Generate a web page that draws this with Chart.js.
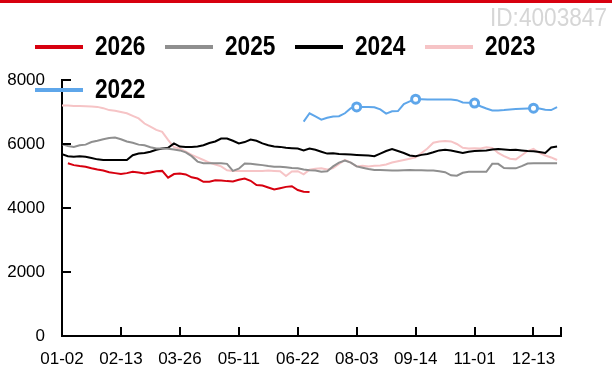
<!DOCTYPE html>
<html>
<head>
<meta charset="utf-8">
<script src="https://cdn.jsdelivr.net/npm/chart.js@4.4.1/dist/chart.umd.min.js"></script>
<style>
    html, body { margin: 0; padding: 0; background: #fff; }
    #wrap { width: 612px; height: 376px; position: relative; }
</style>
</head>
<body>
<div id="wrap"><canvas id="seasonChart"></canvas></div>
<script>
// One point every 3 trading days, x-axis label every 30 trading days
const STEP = 3;
const TICK_EVERY = 30;
const X_MAX = 254;

const xTickLabels = ['01-02', '02-13', '03-26', '05-11', '06-22', '08-03', '09-14', '11-01', '12-13'];
const yTicks = [0, 2000, 4000, 6000, 8000];

const seriesNames = ['2026', '2025', '2024', '2023', '2022'];
const seriesColors = ['#d7000f', '#8f8f8f', '#000000', '#f6c4c6', '#5ea6ea'];

const values2026 = [
    null, 5400, 5340, 5310, 5290, 5240, 5200, 5170, 5120, 5090,
    5060, 5090, 5130, 5110, 5080, 5110, 5150, 5160, 4950, 5060,
    5080, 5050, 4960, 4920, 4820, 4820, 4870, 4860, 4840, 4830,
    4880, 4920, 4850, 4720, 4700, 4640, 4580, 4620, 4660, 4680,
    4560, 4510, 4500
];

const values2025 = [
    5990, 5940, 5910, 5960, 5980, 6060, 6100, 6150, 6190, 6200,
    6150, 6080, 6040, 5980, 5960, 5900, 5860, 5860, 5850, 5830,
    5800, 5740, 5620, 5450, 5400, 5400, 5400, 5400, 5380, 5160,
    5230, 5390, 5380, 5360, 5340, 5310, 5290, 5290, 5270, 5250,
    5240, 5200, 5180, 5170, 5130, 5150, 5300, 5420, 5480, 5420,
    5300, 5260, 5220, 5190, 5190, 5180, 5170, 5170, 5180, 5190,
    5180, 5180, 5170, 5170, 5150, 5120, 5020, 5010, 5100, 5130,
    5130, 5130, 5130, 5380, 5380, 5250, 5240, 5240, 5310, 5390,
    5400, 5400, 5400, 5400, 5400
];

const values2024 = [
    5680, 5620, 5600, 5620, 5600, 5560, 5520, 5500, 5500, 5500,
    5500, 5500, 5650, 5700, 5720, 5760, 5820, 5860, 5880, 6020,
    5920, 5910, 5910, 5920, 5960, 6030, 6080, 6170, 6170, 6100,
    6020, 6060, 6140, 6100, 6020, 5960, 5920, 5910, 5880, 5870,
    5860, 5800, 5860, 5820, 5760, 5700, 5710, 5690, 5680, 5670,
    5660, 5650, 5640, 5620, 5700, 5780, 5840, 5780, 5720, 5640,
    5620, 5660, 5690, 5740, 5800, 5820, 5800, 5760, 5720, 5760,
    5780, 5790, 5800, 5830, 5840, 5830, 5810, 5820, 5800, 5780,
    5770, 5750, 5720, 5890, 5920
];

const values2023 = [
    7200, 7200, 7190, 7190, 7180, 7170, 7160, 7120, 7060, 7040,
    7000, 6960, 6880, 6800, 6640, 6540, 6440, 6380, 6130, 5900,
    5860, 5760, 5660, 5580, 5500, 5420, 5360, 5300, 5180, 5160,
    5160, 5160, 5160, 5160, 5160, 5170, 5160, 5150, 5000, 5140,
    5150, 5050, 5200, 5230, 5240, 5200, 5250, 5380, 5500, 5420,
    5300, 5320, 5300, 5320, 5330, 5360, 5420, 5460, 5500, 5540,
    5580, 5720, 5860, 6040, 6080, 6090, 6080, 6000, 5880, 5860,
    5870, 5860, 5900, 5880, 5720, 5620, 5540, 5520, 5650, 5780,
    5850, 5720, 5640, 5580, 5500
];

// 2022 only has data from the second half of the year
const values2022 = Array(41).fill(null).concat([
    6700, 6960, 6860, 6760, 6820, 6860, 6870, 6960, 7120,
    7160, 7160, 7160, 7150, 7080, 6950, 7020, 7030, 7250, 7330,
    7400, 7400, 7390, 7390, 7390, 7390, 7390, 7370, 7300, 7290,
    7280, 7180, 7110, 7050, 7050, 7060, 7080, 7090, 7100, 7110,
    7120, 7110, 7070, 7060, 7150
]);

const seriesValues = [values2026, values2025, values2024, values2023, values2022];

const SANS = "'Liberation Sans', Arial, sans-serif";

function toPoints(vals) {
    return vals.map((v, i) => ({ x: i * STEP, y: v }));
}

const datasets = seriesNames.map((name, i) => ({
    label: name,
    data: toPoints(seriesValues[i]),
    borderColor: seriesColors[i],
    backgroundColor: '#ffffff',
    borderWidth: 2,
    tension: 0,
    spanGaps: false,
    pointRadius: 0,
    pointHoverRadius: 0
}));

// 2022 gets hollow circle markers every 30 trading days
datasets[4].pointRadius = (ctx) => (ctx.dataIndex % 10 === 0 ? 4 : 0);
datasets[4].pointBorderWidth = 3;
datasets[4].pointBackgroundColor = '#ffffff';
datasets[4].pointBorderColor = seriesColors[4];

// draws text squeezed horizontally (narrow look)
function narrowText(ctx, text, x, y, squeeze) {
    ctx.save();
    ctx.translate(x, y);
    ctx.scale(squeeze, 1);
    ctx.fillText(text, 0, 0);
    ctx.restore();
}

// Red header bar, watermark id, legend and inward tick marks
const decorations = {
    id: 'decorations',
    afterDraw(chart) {
        const ctx = chart.ctx;
        const xs = chart.scales.x;
        const ys = chart.scales.y;
        ctx.save();

        ctx.fillStyle = '#d7000f';
        ctx.fillRect(0, 0, chart.width, 3);

        ctx.fillStyle = '#d6d6d6';
        ctx.font = '26px ' + SANS;
        ctx.textAlign = 'left';
        ctx.textBaseline = 'middle';
        narrowText(ctx, 'ID:4003847', 490, 19, 0.87);

        // legend: four per row
        ctx.font = 'bold 27px ' + SANS;
        ctx.fillStyle = '#000';
        seriesNames.forEach((name, i) => {
            const col = i % 4;
            const row = Math.floor(i / 4);
            const lx = 35 + col * 130;
            const ly = 47 + row * 43;
            ctx.strokeStyle = seriesColors[i];
            ctx.lineWidth = 4;
            ctx.beginPath();
            ctx.moveTo(lx, ly);
            ctx.lineTo(lx + 48, ly);
            ctx.stroke();
            narrowText(ctx, name, lx + 60, ly + 1, 0.84);
        });

        ctx.strokeStyle = '#000';
        ctx.lineWidth = 2;
        ctx.beginPath();
        const xTickVals = xs.ticks.map(t => t.value).concat([xs.max]);
        xTickVals.forEach(v => {
            const px = Math.round(xs.getPixelForValue(v));
            ctx.moveTo(px, ys.bottom);
            ctx.lineTo(px, ys.bottom - 9);
        });
        ys.ticks.forEach(t => {
            const py = Math.round(ys.getPixelForValue(t.value));
            ctx.moveTo(xs.left, py);
            ctx.lineTo(xs.left + 9, py);
        });
        ctx.stroke();
        ctx.restore();
    }
};

Chart.defaults.font.family = SANS;
Chart.defaults.font.size = 17;
Chart.defaults.color = '#000';

new Chart(document.getElementById('seasonChart').getContext('2d'), {
    type: 'line',
    data: { datasets: datasets },
    options: {
        responsive: true,
        maintainAspectRatio: false,
        animation: false,
        devicePixelRatio: 1,
        layout: { padding: { left: 0, right: 51, top: 80, bottom: 0 } },
        plugins: {
            legend: { display: false },
            tooltip: { enabled: false }
        },
        scales: {
            x: {
                type: 'linear',
                min: 0,
                max: X_MAX,
                grid: { display: false, drawTicks: false },
                border: { display: true, color: '#000', width: 2 },
                afterBuildTicks(scale) {
                    scale.ticks = xTickLabels.map((_, i) => ({ value: i * TICK_EVERY }));
                },
                afterFit(scale) { scale.height = 40; },
                ticks: {
                    autoSkip: false,
                    maxRotation: 0,
                    padding: 13,
                    callback: (v) => xTickLabels[Math.round(v / TICK_EVERY)]
                }
            },
            y: {
                min: 0,
                max: 8000,
                grid: { display: false, drawTicks: false },
                border: { display: true, color: '#000', width: 2 },
                afterBuildTicks(scale) {
                    scale.ticks = yTicks.map(v => ({ value: v }));
                },
                afterFit(scale) { scale.width = 62; },
                ticks: {
                    padding: 17,
                    callback: (v) => String(v)
                }
            }
        }
    },
    plugins: [decorations]
});
</script>
</body>
</html>
